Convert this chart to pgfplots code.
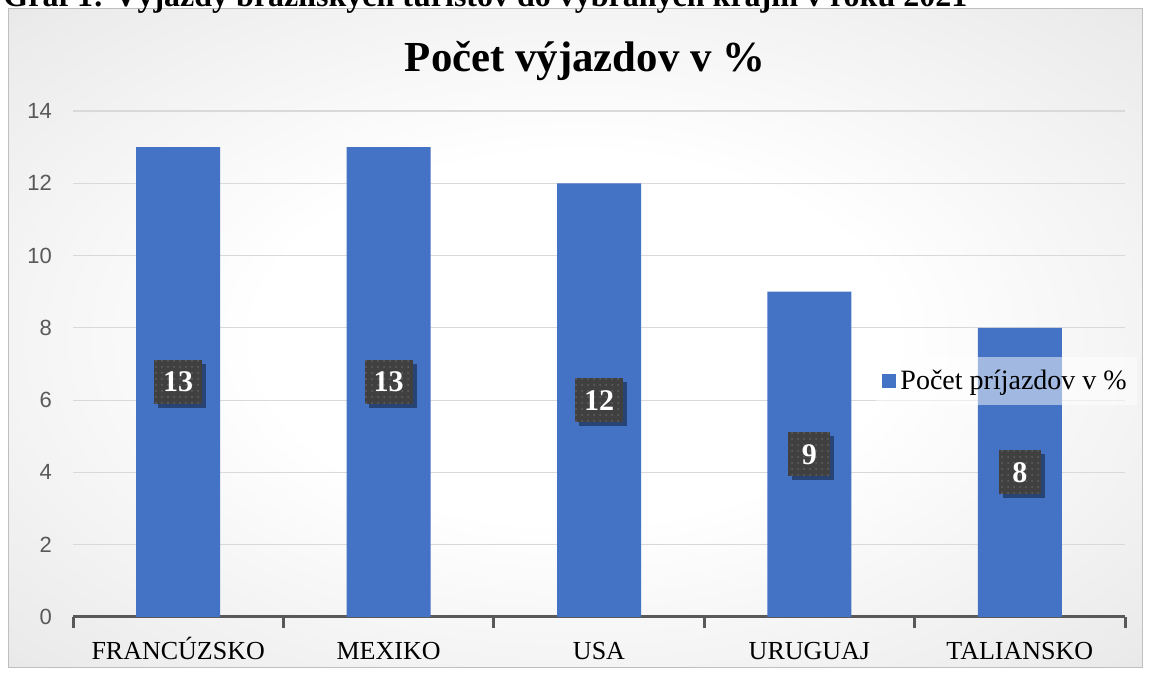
\documentclass[border=0pt]{standalone}
\usepackage{fontspec}
\setmainfont{Liberation Serif}
\newfontfamily\ticksans{Liberation Sans}
\usepackage{pgfplots}
\pgfplotsset{compat=1.18}
\usetikzlibrary{shadows,patterns}
\definecolor{barblue}{HTML}{4472C4}
\definecolor{lblbox}{HTML}{404040}
\definecolor{gridc}{HTML}{D9D9D9}
\definecolor{axisc}{HTML}{595959}
\definecolor{tickc}{HTML}{595959}
\pgfdeclareradialshading{bgshade}{\pgfpoint{0bp}{0bp}}{color(0bp)=(white); color(14bp)=(white); color(34bp)=(black!8); color(50bp)=(black!20); color(72bp)=(black!26)}
\begin{document}
\begin{tikzpicture}
\useasboundingbox (0,0) rectangle (574.5pt,336.5pt);
\clip (0,0) rectangle (574.5pt,336.5pt);
\fill[white] (0,0) rectangle (574.5pt,336.5pt);
\shade[shading=bgshade] (4pt,2.5pt) rectangle (571pt,332pt);
\draw[black!25, line width=0.5pt] (4pt,2.5pt) rectangle (571pt,332pt);
\node[anchor=base west, font=\bfseries\fontsize{16}{18}\selectfont, inner sep=0pt] at (1.5pt,333.3pt) {Graf 1: Výjazdy brazílskych turistov do vybraných krajín v roku 2021};
\node[font=\bfseries\fontsize{21.4}{24}\selectfont, anchor=base, inner sep=0pt] at (292.5pt,300.5pt) {Počet výjazdov v \%};
\begin{axis}[
  at={(36.5pt,28pt)}, anchor=south west,
  scale only axis, width=526pt, height=253pt,
  xmin=-0.5, xmax=4.5, ymin=0, ymax=14,
  ybar, bar width=42pt,
  axis y line*=left, axis x line*=bottom,
  y axis line style={draw=none},
  x axis line style={draw=axisc, line width=1.5pt, -},
  ytick={0,2,...,14},
  ymajorgrids, grid style={gridc, line width=0.6pt},
  major y tick style={draw=none},
  tick align=outside, major tick length=5.5pt,
  xtick={0,1,2,3,4},
  xticklabels={FRANCÚZSKO,MEXIKO,USA,URUGUAJ,TALIANSKO},
  major x tick style={draw=none},
  extra x ticks={-0.5,0.5,1.5,2.5,3.5,4.5},
  extra x tick labels={},
  extra x tick style={major x tick style={draw=axisc, line width=1.5pt}},
  /pgf/number format/assume math mode=true,
  yticklabel style={font=\ticksans\fontsize{11}{13}\selectfont, text=tickc, xshift=-1.5pt},
  xticklabel style={font=\fontsize{13}{15}\selectfont, text height=9.5pt, text depth=0pt, yshift=-2.5pt},
  legend style={at={(0.763,0.466)}, anchor=west, draw=none, fill=white, fill opacity=0.5, text opacity=1, font=\fontsize{14}{16}\selectfont, inner xsep=3pt, inner ysep=4.5pt},
  legend image code/.code={\fill[barblue, fill opacity=1] (0pt,-3.6pt) rectangle (7.2pt,3.6pt);},
  nodes near coords,
  visualization depends on=y \as \rawy,
  every node near coord/.append style={anchor=center, shift={(axis direction cs:0,-\rawy/2)}, fill=lblbox, text=white, font=\bfseries\fontsize{15}{17}\selectfont, inner xsep=4.5pt, minimum width=21pt, minimum height=22pt, drop shadow={shadow xshift=2pt, shadow yshift=-2pt, opacity=0.4, fill=black}, postaction={pattern=dots, pattern color=black!62}},
]
\addplot[fill=barblue, draw=none] coordinates {(0,13) (1,13) (2,12) (3,9) (4,8)};
\legend{Počet príjazdov v \%}
\end{axis}
\end{tikzpicture}
\end{document}
